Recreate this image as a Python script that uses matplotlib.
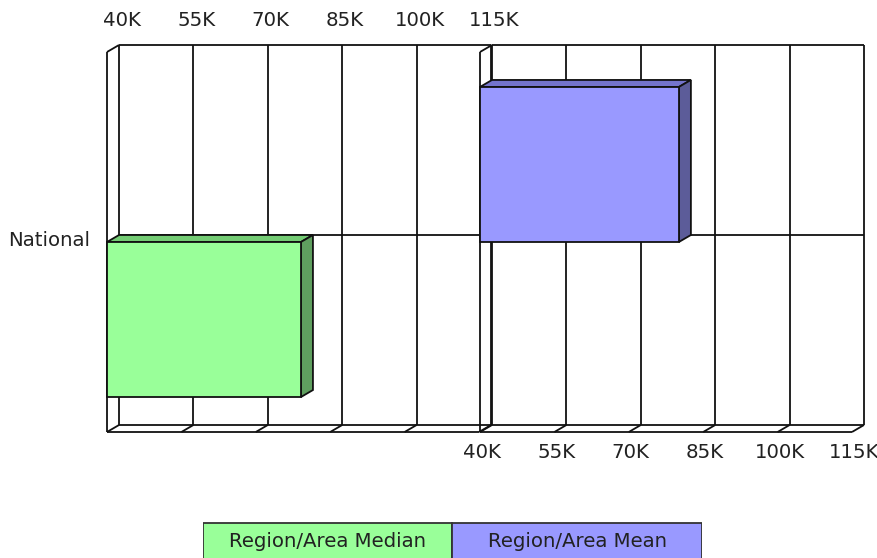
import matplotlib
matplotlib.use("Agg")
import matplotlib.pyplot as plt
from matplotlib.patches import Polygon, Rectangle

# ---- data -------------------------------------------------------------
categories = ["National"]
series_names = ["Region/Area Median", "Region/Area Mean"]
median_values = [79100]
mean_values = [80100]
tick_values = [40000, 55000, 70000, 85000, 100000, 115000]
tick_labels = ["40K", "55K", "70K", "85K", "100K", "115K"]

# ---- style ------------------------------------------------------------
W, H, DPI = 878, 558, 100
X_MIN, X_MAX = 40000, 115000
DEPTH_PX = (12, 7)          # 3-D depth offset in pixels (right, up)
BAR_SPAN = 0.408            # bar thickness in category units
LINE = "#111111"
TEXT = "#222222"
FONT = 14.2
FACE = {"median": ("#99ff99", "#74cc74", "#5f9f5f"),
        "mean": ("#9999ff", "#7474cc", "#5c5c99")}

plt.rcParams["font.family"] = ["DejaVu Sans"]
fig = plt.figure(figsize=(W / DPI, H / DPI), dpi=DPI)


def make_panel(left_px):
    ax = fig.add_axes([left_px / W, 1 - 432 / H, 372 / W, 380 / H])
    ax.set_xlim(X_MIN, X_MAX)
    ax.set_ylim(-0.5, 0.5)
    ax.axis("off")
    dx = DEPTH_PX[0] * (X_MAX - X_MIN) / ax.bbox.width
    dy = DEPTH_PX[1] * 1.0 / ax.bbox.height
    return ax, dx, dy


def line(ax, xs, ys, z=2):
    ax.plot(xs, ys, color=LINE, lw=1.3, solid_capstyle="butt",
            clip_on=False, zorder=z)


def draw_frame(ax, dx, dy, right_end=False):
    top, bot = 0.5, -0.5
    # back wall: vertical gridlines, top edge, bottom edge, category line
    for t in tick_values:
        line(ax, [t + dx, t + dx], [bot + dy, top + dy])
        line(ax, [t, t + dx], [bot, bot + dy])          # floor slants
    line(ax, [X_MIN + dx, X_MAX + dx], [top + dy, top + dy])
    line(ax, [X_MIN + dx, X_MAX + dx], [bot + dy, bot + dy])
    for i, _ in enumerate(categories):
        line(ax, [X_MIN + dx, X_MAX + dx], [i + dy, i + dy])
    # floor front edge and left wall
    line(ax, [X_MIN, X_MAX], [bot, bot])
    line(ax, [X_MIN, X_MIN], [bot, top])
    line(ax, [X_MIN, X_MIN + dx], [top, top + dy])


def draw_bar(ax, dx, dy, value, y0, y1, colors):
    front, topc, side = colors
    x0, x1 = X_MIN, value
    kw = dict(edgecolor=LINE, lw=1.3, clip_on=False, zorder=5,
              joinstyle="miter")
    ax.add_patch(Polygon([(x0, y1), (x1, y1), (x1 + dx, y1 + dy),
                          (x0 + dx, y1 + dy)], facecolor=topc, **kw))
    ax.add_patch(Polygon([(x1, y0), (x1, y1), (x1 + dx, y1 + dy),
                          (x1 + dx, y0 + dy)], facecolor=side, **kw))
    ax.add_patch(Rectangle((x0, y0), x1 - x0, y1 - y0, facecolor=front, **kw))


ax_l, dx_l, dy_l = make_panel(107)
ax_r, dx_r, dy_r = make_panel(480)

draw_frame(ax_l, dx_l, dy_l)
draw_frame(ax_r, dx_r, dy_r)

for i, _ in enumerate(categories):
    draw_bar(ax_l, dx_l, dy_l, median_values[i], i - BAR_SPAN, i,
             FACE["median"])
    draw_bar(ax_r, dx_r, dy_r, mean_values[i], i, i + BAR_SPAN,
             FACE["mean"])

# axis labels: median axis on top, mean axis at the bottom
for t, lab in zip(tick_values, tick_labels):
    ax_l.annotate(lab, (t + dx_l, 0.5 + dy_l), xytext=(3, 25),
                  textcoords="offset pixels", ha="center", va="center",
                  fontsize=FONT, color=TEXT, annotation_clip=False)
    ax_r.annotate(lab, (t, -0.5), xytext=(2, -21),
                  textcoords="offset pixels", ha="center", va="center",
                  fontsize=FONT, color=TEXT, annotation_clip=False)

for i, cat in enumerate(categories):
    ax_l.annotate(cat, (X_MIN, i), xytext=(-17, 2),
                  textcoords="offset pixels", ha="right", va="center",
                  fontsize=FONT, color=TEXT, annotation_clip=False)

# legend strip
ax_leg = fig.add_axes([203 / W, 0, 499 / W, 36 / H])
ax_leg.set_xlim(0, len(series_names))
ax_leg.set_ylim(0, 1)
ax_leg.axis("off")
for j, (name, key) in enumerate(zip(series_names, ["median", "mean"])):
    ax_leg.add_patch(Rectangle((j, -1), 1, 1.97, facecolor=FACE[key][0],
                               edgecolor="#333333", lw=1.3, clip_on=True))
    ax_leg.text(j + 0.5, 0.47, name, ha="center", va="center",
                fontsize=FONT, color=TEXT)

fig.savefig("out.png", dpi=DPI)
